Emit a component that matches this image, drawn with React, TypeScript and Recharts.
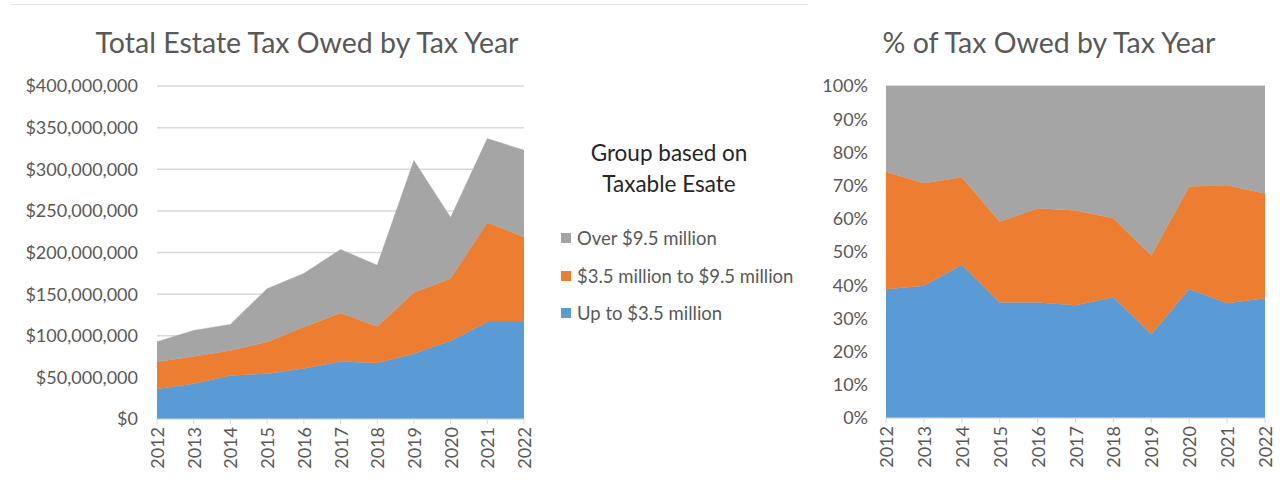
import { Area, AreaChart, CartesianGrid, XAxis, YAxis } from 'recharts'

// values in millions of dollars
const years = ['2012', '2013', '2014', '2015', '2016', '2017', '2018', '2019', '2020', '2021', '2022']
const upTo35 = [36.0, 42.4, 52.4, 54.4, 60.8, 69.2, 67.2, 78.4, 94.0, 116.4, 116.4]
const mid35to95 = [32.8, 32.8, 30.0, 38.0, 49.6, 58.0, 44.0, 73.6, 74.8, 119.6, 102.0]
const over95 = [24.0, 31.2, 31.2, 64.0, 64.4, 76.4, 73.6, 158.4, 73.2, 100.8, 104.4]

const dollarTicks = [0, 50e6, 100e6, 150e6, 200e6, 250e6, 300e6, 350e6, 400e6]
const pctTicks = [0, 0.1, 0.2, 0.3, 0.4, 0.5, 0.6, 0.7, 0.8, 0.9, 1]

const SERIES = [
  { key: 'up', name: 'Up to $3.5 million', color: '#5B9BD5' },
  { key: 'mid', name: '$3.5 million to $9.5 million', color: '#ED7D31' },
  { key: 'over', name: 'Over $9.5 million', color: '#A5A5A5' },
]

const data = years.map((year, i) => ({
  year,
  up: upTo35[i] * 1e6,
  mid: mid35to95[i] * 1e6,
  over: over95[i] * 1e6,
}))

const FONT = 'Lato, "Liberation Sans", sans-serif'
const TEXT = '#595959'
const GRID = '#d9d9d9'

const YearTick = (props: any) => {
  const { x, y, payload } = props
  return (
    <text
      x={x}
      y={y}
      transform={`rotate(-90 ${x} ${y})`}
      textAnchor="end"
      dominantBaseline="central"
      fill={TEXT}
      fontSize={18}
      fontFamily={FONT}
    >
      {payload.value}
    </text>
  )
}

function areas() {
  return SERIES.map((s) => (
    <Area
      key={s.key}
      type="linear"
      dataKey={s.key}
      name={s.name}
      stackId="a"
      stroke={s.color}
      strokeWidth={0.5}
      fill={s.color}
      fillOpacity={1}
      isAnimationActive={false}
      dot={false}
      activeDot={false}
    />
  ))
}

export default function App() {
  const tickStyle = { fill: TEXT, fontSize: 18, fontFamily: FONT }
  return (
    <div style={{ position: 'absolute', left: 0, top: 0, width: 1280, height: 483, background: '#fff', fontFamily: FONT }}>
      <div style={{ position: 'absolute', left: 11, top: 4, width: 797, height: 1, background: '#e3e3e3' }} />

      <div style={{ position: 'absolute', left: 57, width: 500, top: 27, textAlign: 'center', fontSize: 28.5, lineHeight: '30px', color: TEXT }}>
        Total Estate Tax Owed by Tax Year
      </div>
      <div style={{ position: 'absolute', left: 0, top: 0 }}>
        <AreaChart width={560} height={483} data={data} margin={{ top: 86, right: 36, bottom: 0, left: 0 }}>
          <CartesianGrid vertical={false} stroke={GRID} strokeWidth={1.5} />
          <XAxis
            dataKey="year"
            height={64}
            interval={0}
            tick={<YearTick />}
            tickSize={5}
            tickMargin={3}
            stroke={GRID}
            tickLine={{ stroke: GRID }}
            axisLine={{ stroke: GRID }}
          />
          <YAxis
            width={157}
            domain={[0, 400e6]}
            ticks={dollarTicks}
            tickFormatter={(v: number) => '$' + v.toLocaleString('en-US')}
            tick={tickStyle}
            tickLine={false}
            axisLine={false}
            tickSize={0}
            tickMargin={19}
          />
          {areas()}
        </AreaChart>
      </div>

      {/* legend */}
      <div style={{ position: 'absolute', left: 559, width: 220, top: 137, textAlign: 'center', fontSize: 22.5, lineHeight: '31px', color: '#262626' }}>
        Group based on
        <br />
        Taxable Esate
      </div>
      {[...SERIES].reverse().map((s, i) => (
        <div
          key={s.key}
          style={{ position: 'absolute', left: 561, top: 226 + i * 37.5, height: 24, display: 'flex', alignItems: 'center', fontSize: 18.5, color: TEXT, whiteSpace: 'nowrap' }}
        >
          <span style={{ display: 'inline-block', width: 10, height: 10, background: s.color, marginRight: 6 }} />
          {s.name}
        </div>
      ))}

      <div style={{ position: 'absolute', left: 849, width: 400, top: 27, textAlign: 'center', fontSize: 28.5, lineHeight: '30px', color: TEXT }}>
        % of Tax Owed by Tax Year
      </div>
      <div style={{ position: 'absolute', left: 720, top: 0 }}>
        <AreaChart width={560} height={483} data={data} stackOffset="expand" margin={{ top: 86, right: 15, bottom: 0, left: 0 }}>
          <CartesianGrid vertical={false} stroke={GRID} />
          <XAxis
            dataKey="year"
            height={65}
            interval={0}
            tick={<YearTick />}
            tickSize={5}
            tickMargin={3}
            stroke={GRID}
            tickLine={{ stroke: GRID }}
            axisLine={{ stroke: GRID }}
          />
          <YAxis
            width={166}
            domain={[0, 1]}
            ticks={pctTicks}
            tickFormatter={(v: number) => `${Math.round(v * 100)}%`}
            tick={tickStyle}
            tickLine={false}
            axisLine={false}
            tickSize={0}
            tickMargin={18}
          />
          {areas()}
        </AreaChart>
      </div>
    </div>
  )
}
